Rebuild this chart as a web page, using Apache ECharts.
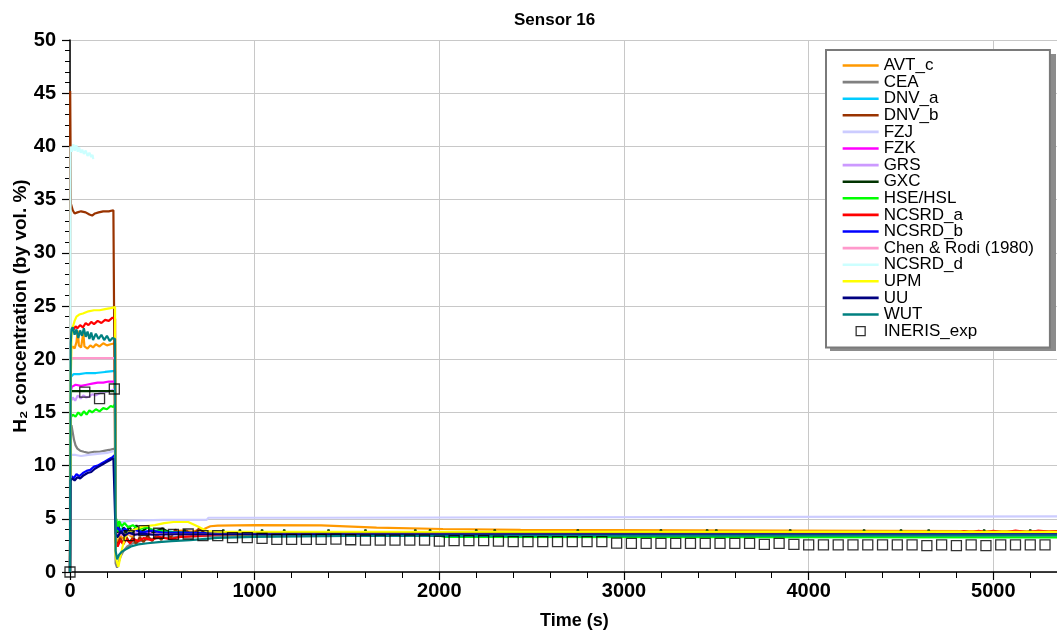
<!DOCTYPE html>
<html>
<head>
<meta charset="utf-8">
<script src="https://cdn.jsdelivr.net/npm/echarts@6/dist/echarts.min.js"></script>
<style>
  html, body { margin: 0; padding: 0; background: #fff; }
  #chart { width: 1057px; height: 636px; }
</style>
</head>
<body>
<div id="chart"></div>
<script>
// Sensor 16: hydrogen concentration vs time, simulations and experiment
const seriesNames = ['AVT_c', 'CEA', 'DNV_a', 'DNV_b', 'FZJ', 'FZK', 'GRS', 'GXC', 'HSE/HSL',
  'NCSRD_a', 'NCSRD_b', 'Chen & Rodi (1980)', 'NCSRD_d', 'UPM', 'UU', 'WUT'];
const expName = 'INERIS_exp';
const xTicks = [0, 1000, 2000, 3000, 4000, 5000];
const yTicks = [0, 5, 10, 15, 20, 25, 30, 35, 40, 45, 50];

// [time (s), H2 %vol]
const avtC = [[0,0],[3,15],[6,21.0],[15,21.2],[25,21.0],[35,21.6],[42,22.7],[48,21.3],[60,21.1],[72,22.5],[78,21.2],[95,21.0],[110,21.3],[125,21.1],[140,21.4],[160,21.2],[180,21.5],[200,21.3],[220,21.4],[244,21.5],[247,3.5],[258,2.6],[272,3.4],[290,3.1],[310,3.6],[335,3.3],[360,3.7],[390,3.5],[420,3.8],[460,3.6],[500,3.9],[550,3.7],[600,3.9],[660,3.8],[720,4.0],[760,4.3],[800,4.35],[1000,4.4],[1360,4.38],[1370,4.2],[1660,4.17],[1670,4.05],[2020,4.04],[2030,3.95],[2440,3.95],[2450,3.84],[5350,3.82]];
const cea = [[0,0],[3,13.2],[8,13.8],[15,13.1],[22,12.4],[30,11.9],[40,11.6],[55,11.4],[75,11.3],[100,11.2],[130,11.3],[160,11.3],[190,11.4],[220,11.5],[244,11.6],[247,0.8],[255,0.4],[263,0.9],[275,1.5],[290,2.0],[310,2.4],[340,2.7],[380,2.9],[430,3.1],[500,3.2],[600,3.3],[750,3.4],[1000,3.45],[2000,3.5],[5350,3.5]];
const dnvA = [[0,0],[3,18.3],[20,18.6],[50,18.6],[90,18.7],[140,18.7],[190,18.8],[244,18.9],[247,4.4],[258,3.9],[280,4.1],[310,3.8],[350,4.0],[400,3.8],[480,3.9],[600,3.7],[800,3.6],[1500,3.55],[5350,3.55]];
const dnvB = [[0,0],[1,45.2],[3,40],[5,34.6],[15,34.0],[25,33.7],[40,33.8],[60,33.9],[85,33.8],[105,33.6],[120,33.5],[135,33.7],[155,33.8],[180,33.9],[210,33.9],[235,34.0],[244,34.0],[247,3.0],[258,2.5],[272,3.2],[288,2.7],[305,3.3],[322,2.8],[340,3.2],[358,2.6],[378,3.3],[398,2.8],[420,3.4],[445,2.9],[470,3.5],[495,3.0],[520,3.9],[545,3.2],[570,4.0],[600,3.3],[630,3.9],[660,3.4],[700,4.1],[740,3.5],[780,3.7],[850,3.6],[1000,3.6],[5350,3.6]];
const fzj = [[0,0],[3,11.0],[30,11.0],[60,10.9],[100,11.0],[150,11.1],[200,11.2],[244,11.4],[247,4.6],[258,4.5],[280,4.7],[320,4.8],[400,4.85],[500,4.9],[740,4.9],[750,5.1],[1310,5.1],[1320,5.22],[5350,5.22]];
const fzk = [[0,0],[3,16.9],[10,17.4],[30,17.6],[60,17.5],[90,17.6],[120,17.7],[150,17.8],[180,17.8],[210,17.9],[244,17.9],[247,3.2],[258,3.9],[280,3.5],[310,3.8],[350,3.6],[400,3.7],[500,3.6],[700,3.6],[5350,3.55]];
const grs = [[0,0],[3,16.0],[15,16.4],[28,16.1],[42,16.6],[58,16.3],[72,16.6],[88,16.4],[105,16.5],[120,16.7],[140,16.6],[160,16.8],[185,16.9],[210,17.0],[230,17.1],[244,17.2],[247,3.4],[260,4.0],[290,3.6],[330,3.8],[400,3.6],[600,3.6],[5350,3.6]];
const gxc = [[0,0],[3,17.0],[244,17.0],[247,4.6],[255,3.2],[262,4.4],[275,3.5],[290,4.2],[305,3.6],[320,4.3],[340,3.7],[360,4.4],[380,3.7],[420,4.2],[450,3.7],[500,4.1],[540,3.7],[615,3.68],[620,4.0],[625,3.68],
  [825,3.68],[830,4.0],[835,3.68],[915,3.68],[920,4.0],[925,3.68],[1035,3.68],[1040,4.0],[1045,3.68],[1155,3.68],[1160,3.98],[1165,3.68],
  [1395,3.68],[1400,4.0],[1405,3.68],[1595,3.68],[1600,3.98],[1605,3.68],[1865,3.68],[1870,4.0],[1875,3.68],[1945,3.68],[1950,4.0],[1955,3.68],
  [2195,3.68],[2200,3.98],[2205,3.68],[2295,3.68],[2300,4.0],[2305,3.68],[2745,3.68],[2750,3.98],[2755,3.68],[3195,3.68],[3200,4.0],[3205,3.68],
  [3445,3.68],[3450,4.0],[3455,3.68],[3495,3.68],[3500,4.0],[3505,3.68],[3895,3.68],[3900,3.98],[3905,3.68],[4295,3.68],[4300,4.0],[4305,3.68],
  [4495,3.68],[4500,4.0],[4505,3.68],[4645,3.68],[4650,3.98],[4655,3.68],[4945,3.68],[4950,4.0],[4955,3.68],[5195,3.68],[5200,4.0],[5205,3.68],[5350,3.68]];
const hse = [[0,0],[3,14.5],[15,14.8],[30,14.6],[45,15.0],[60,14.7],[75,15.1],[90,14.8],[105,15.2],[120,15.0],[140,15.3],[160,15.1],[180,15.4],[200,15.3],[220,15.6],[235,15.5],[244,15.8],[247,5.1],[252,4.9],[258,3.8],[266,4.8],[280,4.3],[295,4.6],[315,4.2],[340,4.4],[370,4.0],[410,4.2],[460,3.9],[520,3.8],[600,3.7],[750,3.55],[1000,3.45],[2000,3.42],[2030,3.3],[5350,3.25]];
const ncsrdA = [[0,0],[3,22.5],[10,23.0],[20,22.8],[30,23.1],[40,22.9],[55,23.2],[70,23.0],[85,23.4],[100,23.2],[115,23.5],[130,23.3],[150,23.6],[170,23.4],[190,23.7],[210,23.6],[230,23.9],[244,23.8],[247,2.8],[258,2.4],[272,3.0],[288,2.6],[305,3.1],[325,2.7],[345,3.1],[370,2.9],[400,3.2],[440,3.0],[480,3.3],[540,3.1],[600,3.3],[700,3.4],[800,3.5],[1000,3.55],[4800,3.6],[4840,3.85],[4880,3.7],[4920,3.88],[4960,3.72],[5000,3.86],[5060,3.7],[5120,3.9],[5180,3.75],[5240,3.88],[5300,3.8],[5350,3.85]];
const ncsrdB = [[0,0],[3,8.8],[10,9.0],[20,8.8],[35,9.2],[50,9.0],[70,9.3],[90,9.5],[110,9.6],[130,9.9],[150,10.0],[170,10.2],[190,10.4],[210,10.6],[230,10.8],[244,11.0],[247,3.9],[258,4.2],[275,3.7],[295,4.1],[320,3.8],[350,4.0],[390,3.7],[440,3.9],[500,3.7],[600,3.7],[800,3.6],[1200,3.5],[5350,3.5]];
const chenRodi = [[0,0],[3,20.1],[244,20.1],[247,3.6],[270,3.5],[400,3.55],[5350,3.55]];
const ncsrdD = [[0,0],[3,40.0],[10,39.5],[18,40.2],[26,39.6],[34,40.1],[42,39.5],[50,39.9],[58,39.4],[66,39.7],[75,39.3],[85,39.6],[95,39.1],[105,39.4],[115,39.0],[122,39.2],[126,38.8]];
const upm = [[0,0],[2,10],[4,18],[8,22.3],[15,23.0],[25,23.6],[35,24.0],[50,24.2],[70,24.3],[100,24.5],[130,24.6],[160,24.6],[190,24.7],[220,24.8],[244,24.9],[247,1.5],[255,0.9],[262,0.5],[270,1.2],[285,2.4],[300,3.3],[320,3.8],[350,4.0],[400,4.3],[460,4.4],[510,4.6],[560,4.7],[640,4.7],[690,4.3],[740,3.85],[800,3.8],[5350,3.78]];
const uu = [[0,0],[3,8.6],[12,8.8],[25,8.6],[40,8.9],[55,8.8],[75,9.1],[95,9.3],[115,9.4],[135,9.7],[155,9.9],[175,10.1],[195,10.3],[215,10.5],[235,10.7],[244,10.8],[247,3.6],[258,3.3],[275,3.8],[295,3.4],[320,3.7],[350,3.5],[390,3.6],[450,3.5],[550,3.55],[5350,3.55]];
const wut = [[0,0],[2,10],[4,21.5],[8,22.8],[15,23.0],[25,22.3],[35,22.8],[45,22.0],[55,22.7],[65,22.2],[75,22.9],[85,22.1],[95,22.6],[105,21.9],[115,22.5],[125,21.8],[140,22.4],[155,21.9],[170,22.3],[185,21.8],[200,22.2],[215,21.7],[230,22.0],[244,21.9],[247,2.0],[255,1.2],[265,1.6],[280,1.9],[300,2.1],[330,2.4],[370,2.6],[420,2.7],[480,2.8],[550,2.9],[650,3.0],[800,3.2],[1000,3.3],[1500,3.4],[5350,3.45]];

// Experimental samples
const expTime = [0,80,160,240,320,400,480,560,640,720,800,880,960,1040,1120,1200,1280,1360,1440,1520,1600,1680,1760,1840,1920,2000,2080,2160,2240,2320,2400,2480,2560,2640,2720,2800,2880,2960,3040,3120,3200,3280,3360,3440,3520,3600,3680,3760,3840,3920,4000,4080,4160,4240,4320,4400,4480,4560,4640,4720,4800,4880,4960,5040,5120,5200,5280];
const expValue = [0,16.9,16.3,17.2,3.41,3.88,3.64,3.54,3.57,3.41,3.41,3.23,3.23,3.16,3.06,3.06,3.06,3.06,3.09,3.03,3.0,3.0,3.0,3.0,3.0,2.9,2.94,2.94,2.94,2.9,2.85,2.85,2.85,2.85,2.85,2.85,2.85,2.72,2.69,2.69,2.69,2.69,2.69,2.69,2.69,2.69,2.69,2.6,2.69,2.6,2.54,2.54,2.54,2.54,2.54,2.54,2.54,2.54,2.47,2.54,2.47,2.54,2.47,2.54,2.54,2.54,2.54];

const lineData = [avtC, cea, dnvA, dnvB, fzj, fzk, grs, gxc, hse, ncsrdA, ncsrdB, chenRodi, ncsrdD, upm, uu, wut];
const lineColors = ['#FF9900', '#808080', '#00CCFF', '#993300', '#CCCCFF', '#FF00FF', '#CC99FF', '#003300',
  '#00FF00', '#FF0000', '#0000FF', '#FF99CC', '#CCFFFF', '#FFFF00', '#000080', '#008080'];

const FONT = '"Liberation Sans", Arial, sans-serif';
// Legend glyphs: a short bar for the models, a hollow square for the measurements.
// Both paths span a 36x9 box so they sit centred in the legend's icon slot.
const LINE_ICON = 'path://M0,0L0,0M0,3.2L36,3.2L36,5.8L0,5.8ZM36,9L36,9';
const SQUARE_ICON = 'path://M0,4.5L0,4.5M13.5,0L22.5,0L22.5,9L13.5,9ZM36,4.5L36,4.5';

const series = seriesNames.map((name, i) => ({
  name: name,
  type: 'line',
  data: lineData[i],
  symbol: 'none',
  showSymbol: false,
  color: lineColors[i],
  lineStyle: { width: 2.2, color: lineColors[i] },
  z: 2 + i * 0.01
}));
series.push({
  name: expName,
  type: 'scatter',
  data: expTime.map((t, i) => [t, expValue[i]]),
  symbol: 'rect',
  symbolSize: 10,
  itemStyle: { color: 'rgba(255,255,255,0)', borderColor: '#000', borderWidth: 1.3 },
  z: 5
});

const legendData = seriesNames.map((name, i) => ({
  name: name, icon: LINE_ICON, itemStyle: { color: lineColors[i], borderWidth: 0 }
}));
legendData.push({ name: expName, icon: SQUARE_ICON,
  itemStyle: { color: 'rgba(255,255,255,0)', borderColor: '#000', borderWidth: 1.3 } });

const chart = echarts.init(document.getElementById('chart'), null, { renderer: 'canvas' });
chart.setOption({
  animation: false,
  backgroundColor: '#fff',
  textStyle: { fontFamily: FONT },
  title: [
    { text: 'Sensor 16', left: 509, top: 7,
      textStyle: { fontFamily: FONT, fontSize: 17, fontWeight: 'bold', color: '#000' } },
    { text: 'Time (s)', left: 535, top: 607,
      textStyle: { fontFamily: FONT, fontSize: 18, fontWeight: 'bold', color: '#000' } }
  ],
  graphic: [
    // drop shadow behind the legend box
    { type: 'rect', left: 830, top: 54, z: 3, silent: true,
      shape: { width: 226, height: 297 }, style: { fill: '#8c8c8c' } }
  ],
  legend: {
    orient: 'vertical',
    left: 826, top: 50,
    padding: [7, 16, 8, 16],
    itemGap: -0.4,
    itemWidth: 36,
    itemHeight: 9,
    selectedMode: false,
    backgroundColor: '#fff',
    borderColor: '#7a7a7a',
    borderWidth: 2,
    z: 4,
    textStyle: { fontFamily: FONT, fontSize: 17, color: '#000' },
    data: legendData
  },
  // the time axis runs on past the right edge, so only 0..~5350 s is on screen
  grid: { left: 70, top: 40, bottom: 64, width: 1108, containLabel: false, outerBoundsMode: 'none' },
  xAxis: {
    type: 'value',
    min: xTicks[0], max: 6000, interval: xTicks[1] - xTicks[0],
    axisLine: { show: true, onZero: false, lineStyle: { color: '#000', width: 1.5 } },
    axisTick: { show: true, length: 8, lineStyle: { color: '#000', width: 1.2 } },
    minorTick: { show: true, splitNumber: 5, length: 6, lineStyle: { color: '#000', width: 1 } },
    splitLine: { show: true, lineStyle: { color: '#C8C8C8', width: 1 } },
    axisLabel: { fontFamily: FONT, fontSize: 20, fontWeight: 'bold', color: '#000', margin: 9,
      formatter: v => (xTicks.indexOf(v) >= 0 ? String(v) : '') }
  },
  yAxis: {
    type: 'value',
    min: yTicks[0], max: yTicks[yTicks.length - 1], interval: yTicks[1] - yTicks[0],
    name: 'H\u2082 concentration (by vol. %)',
    nameLocation: 'middle',
    nameGap: 40,
    nameMoveOverlap: false,
    nameTextStyle: { fontFamily: FONT, fontSize: 19, fontWeight: 'bold', color: '#000' },
    axisLine: { show: true, lineStyle: { color: '#000', width: 1.5 } },
    axisTick: { show: true, length: 8, lineStyle: { color: '#000', width: 1.2 } },
    minorTick: { show: true, splitNumber: 5, length: 5, lineStyle: { color: '#000', width: 1 } },
    splitLine: { show: true, lineStyle: { color: '#C8C8C8', width: 1 } },
    axisLabel: { fontFamily: FONT, fontSize: 20, fontWeight: 'bold', color: '#000', margin: 14 }
  },
  series: series
});
</script>
</body>
</html>
